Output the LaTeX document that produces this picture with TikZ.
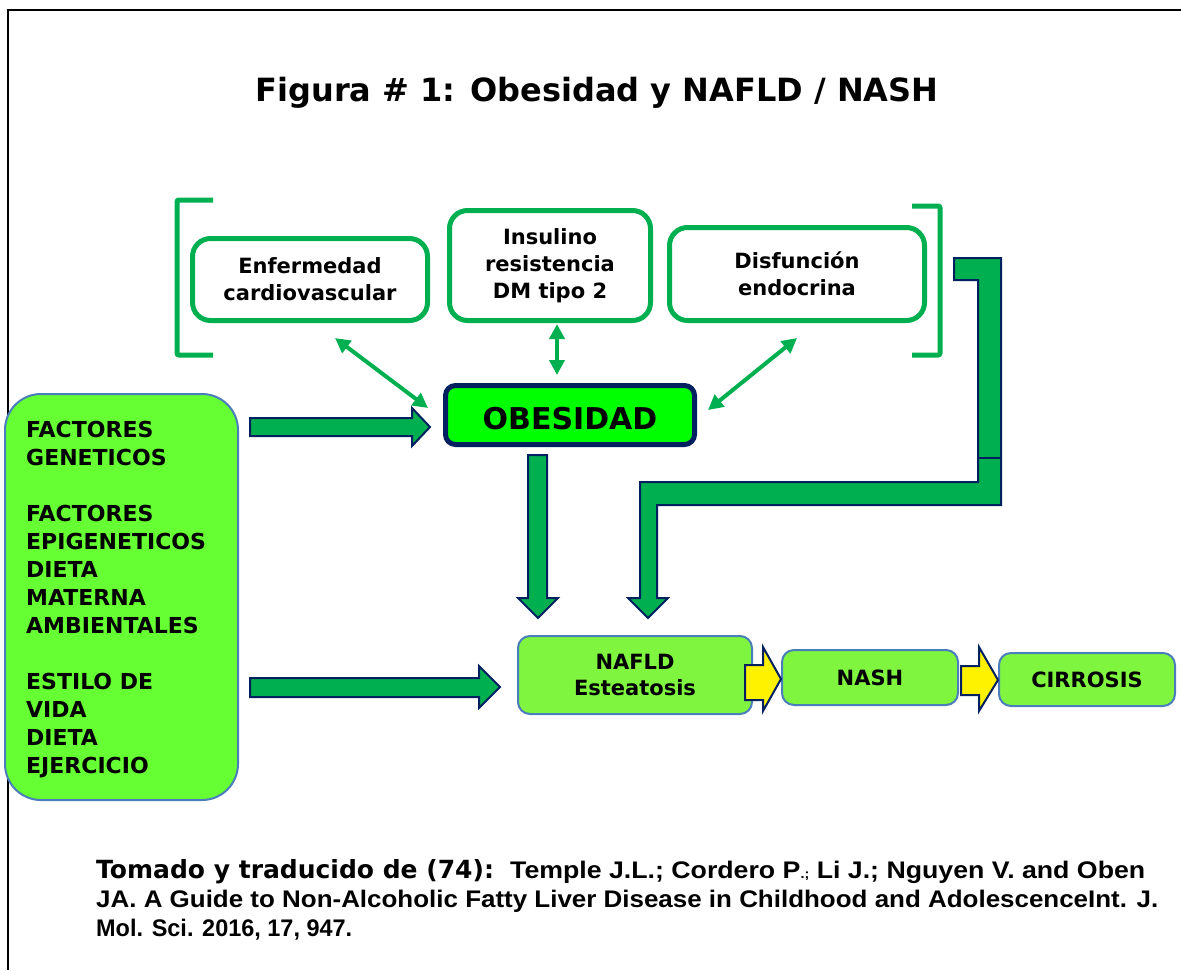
\documentclass[tikz,border=0pt]{standalone}
\usepackage{fontspec}
\setmainfont{DejaVu Sans}
\newfontfamily\arialf{Liberation Sans}
\usepackage{graphicx}
\usetikzlibrary{arrows.meta}
\definecolor{gr}{HTML}{00B050}
\definecolor{navy}{HTML}{002060}
\definecolor{lime}{HTML}{00FF00}
\definecolor{lgreen}{HTML}{66FF33}
\definecolor{bgreen}{HTML}{7FF53F}
\definecolor{sblue}{HTML}{4A7EBB}
\begin{document}
\begin{tikzpicture}[x=1pt,y=-1pt,
  topbox/.style={draw=gr, line width=5pt, rounded corners=18pt, fill=white, align=center,
    font=\bfseries\fontsize{21}{27}\selectfont, inner sep=0},
  bracketline/.style={draw=gr, line width=5pt, rounded corners=2pt},
  dbl/.style={draw=gr, line width=4pt, {Triangle[length=15pt,width=15pt]}-{Triangle[length=15pt,width=15pt]}},
  block/.style={fill=gr, draw=navy, line width=2pt, line join=miter},
  yblock/.style={fill=yellow, draw=navy, line width=2pt, line join=miter},
  obbox/.style={fill=lime, draw=navy, line width=5pt, rounded corners=10pt, inner sep=0,
    font=\bfseries\fontsize{30}{36}\selectfont, text height=30pt},
  stage/.style={fill=bgreen, draw=sblue, line width=2pt, rounded corners=12pt, align=center, inner sep=0,
    font=\bfseries\fontsize{21}{26}\selectfont},
  factbox/.style={fill=lgreen, draw=sblue, line width=2pt, rounded corners=36pt, inner sep=0},
  cite/.style={anchor=base west, inner sep=0},
  citear/.style={cite, font=\arialf\bfseries\fontsize{24}{29}\selectfont}
]
\useasboundingbox (0,0) rectangle (1181,970);
% frame
\draw[line width=2pt] (8,970) -- (8,10) -- (1181,10);

% title
\node[anchor=base, inner sep=0, font=\bfseries\fontsize{32}{38}\selectfont] (title) at (597,101)
  {Figura \# 1: Obesidad y NAFLD / NASH};

% brackets
\draw[bracketline] (213,200) -- (177,200) -- (177,355) -- (213,355);
\draw[bracketline] (912,206) -- (940,206) -- (940,355) -- (912,355);

% top boxes
\node[topbox, minimum width=235pt, minimum height=82pt] (cv) at (310,279.5) {Enfermedad\\cardiovascular};
\node[topbox, minimum width=201pt, minimum height=110pt] (ir) at (550,265.5) {Insulino\\resistencia\\DM tipo 2};
\node[topbox, minimum width=255pt, minimum height=93pt] (de) at (797,274) {Disfunción\\endocrina};

% obesidad
\node[obbox, minimum width=249pt, minimum height=59pt] (ob) at (570,415) {OBESIDAD};

% double arrows
\coordinate (c1) at (335,338); \coordinate (o1) at (428,408);
\coordinate (c2) at (557,324); \coordinate (o2) at (557,375);
\coordinate (c3) at (797,338); \coordinate (o3) at (708,410);
\draw[dbl] (c1) -- (o1);
\draw[dbl] (c2) -- (o2);
\draw[dbl] (c3) -- (o3);

% factors box
\node[factbox, minimum width=233pt, minimum height=406pt] (fac) at (121.5,597) {};
\node[anchor=north west, align=left, inner sep=0, font=\bfseries\fontsize{22}{28}\selectfont] (factxt) at (26,421)
  {FACTORES\\GENETICOS\\[28pt]FACTORES\\EPIGENETICOS\\DIETA\\MATERNA\\AMBIENTALES\\[28pt]ESTILO DE\\VIDA\\DIETA\\EJERCICIO};

% stages
\node[stage, minimum width=234pt, minimum height=78pt] (nafld) at (635,675) {NAFLD\\Esteatosis};
\node[stage, minimum width=176pt, minimum height=55pt] (nash) at (870,677.5) {NASH};
\node[stage, minimum width=176pt, minimum height=53pt] (cirr) at (1087,679.5) {CIRROSIS};

% block arrows
\draw[block] (250,418) -- (412,418) -- (412,408) -- (430,427) -- (412,446) -- (412,436) -- (250,436) -- cycle;
\draw[block] (250,678) -- (479,678) -- (479,666) -- (500,687) -- (479,708) -- (479,697) -- (250,697) -- cycle;
\draw[block] (528,455) -- (547,455) -- (547,598) -- (558,598) -- (538,618) -- (518,598) -- (528,598) -- cycle;
\draw[block] (954,258) -- (1001,258) -- (1001,505) -- (657,505) -- (657,598) -- (668,598) -- (648,618)
  -- (628,598) -- (640,598) -- (640,482) -- (978,482) -- (978,280) -- (954,280) -- cycle;
\draw[navy, line width=2pt] (978,458) -- (1001,458);

% yellow arrows
\draw[yblock] (745,665) -- (763,665) -- (763,647) -- (781,679) -- (763,711) -- (763,700) -- (745,700) -- cycle;
\draw[yblock] (961,666) -- (979,666) -- (979,647) -- (998,680) -- (979,711) -- (979,695) -- (961,695) -- cycle;

% citation
\node[cite, font=\bfseries\fontsize{25}{30}\selectfont] (cit1) at (96,878) {Tomado y traducido de (74):};
\node[citear] (cit1b) at (510,878)
  {\resizebox{635pt}{\height}{Temple J.L.; Cordero P{\fontsize{13}{13}\selectfont.;} Li J.; Nguyen V. and Oben}};
\node[citear] (cit2) at (96,907)
  {\resizebox{1062pt}{\height}{JA. A Guide to Non-Alcoholic Fatty Liver Disease in Childhood and AdolescenceInt. J.}};
\node[citear] (cit3) at (96,936)
  {\resizebox{256pt}{\height}{Mol. Sci. 2016, 17, 947.}};
\end{tikzpicture}
\end{document}
